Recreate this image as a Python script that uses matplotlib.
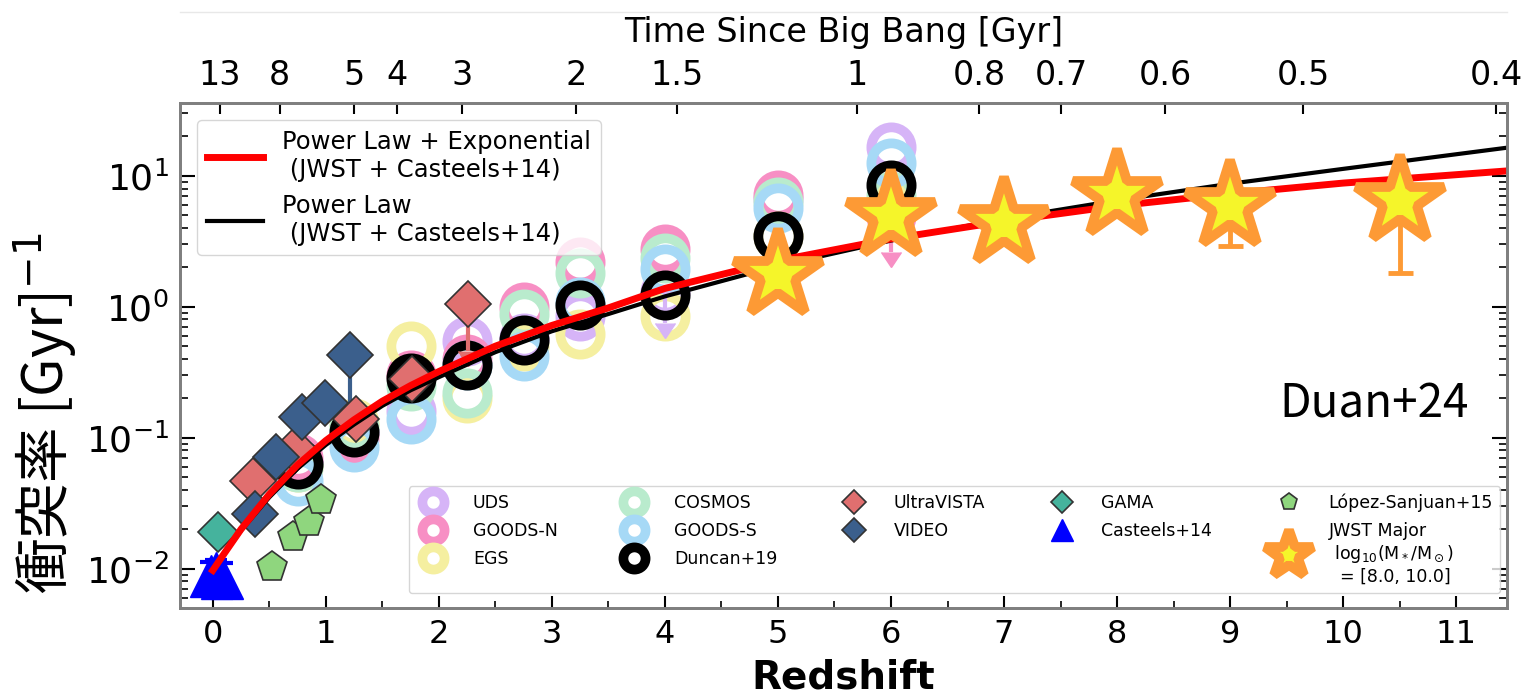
import numpy as np
import matplotlib
matplotlib.use('Agg')
import matplotlib.pyplot as plt
from matplotlib.lines import Line2D
from matplotlib.ticker import LogLocator, NullFormatter, MultipleLocator

plt.rcParams['font.family'] = ['DejaVu Sans', 'Noto Sans CJK JP']

# fitted curves
z_curve = [0, 0.1, 0.25, 0.5, 0.75, 1.0, 1.25, 1.5, 1.75, 2.0, 2.5, 3.0, 3.5, 4.0,
           5.0, 6.0, 7.0, 8.0, 9.0, 10.0, 11.45]
rate_pl_exp = [0.0097, 0.0130, 0.020, 0.037, 0.062, 0.095, 0.137, 0.19, 0.25, 0.32, 0.50,
               0.72, 0.98, 1.38, 2.25, 3.3, 4.5, 5.9, 7.3, 8.8, 10.9]
rate_pl = [0.0097, 0.0128, 0.0195, 0.035, 0.058, 0.088, 0.126, 0.175, 0.23, 0.29, 0.45,
           0.65, 0.88, 1.2, 2.05, 3.2, 4.7, 6.5, 8.7, 11.3, 16.4]

# Duncan+19 fields
z_fields = [0.75, 1.25, 1.75, 2.25, 2.75, 3.25, 4.0, 5.0, 6.0]
uds = [0.065, 0.11, 0.16, 0.55, 0.58, 0.85, 1.3, 6.6, 16.5]
goods_n = [0.07, 0.10, 0.30, 0.40, 1.0, 2.2, 2.75, 7.2, 4.9]
egs = [0.06, 0.13, 0.50, 0.20, 0.50, 0.62, 0.85, 3.5, 6.0]
cosmos = [0.06, 0.12, 0.25, 0.22, 0.88, 1.8, 2.35, 6.3, 7.0]
goods_s = [0.047, 0.085, 0.14, 0.36, 0.42, 1.08, 1.95, 5.7, 12.5]
duncan = [0.063, 0.111, 0.284, 0.36, 0.56, 1.04, 1.24, 3.5, 8.5]

z_uvista = [0.36, 0.73, 1.27, 1.76, 2.26]
uvista = [0.047, 0.08, 0.14, 0.28, 1.05]
z_video = [0.37, 0.56, 0.785, 0.99, 1.21]
video = [0.026, 0.071, 0.145, 0.183, 0.43]
z_gama = [0.05]
gama = [0.019]
z_casteels = [-0.02, 0.03, 0.08]
casteels = [0.0088, 0.0092, 0.0085]
z_lopez = [0.52, 0.71, 0.85, 0.96]
lopez = [0.0102, 0.0173, 0.0225, 0.0332]

z_jwst = [5, 6, 7, 8, 9, 10.5]
jwst = [1.75, 4.9, 4.4, 7.2, 5.9, 6.4]
jwst_lo = [1.4, 4.0, 3.6, 6.0, 2.9, 1.8]
jwst_hi = [2.2, 6.0, 5.4, 8.8, 7.0, 8.0]

ages = [13, 8, 5, 4, 3, 2, 1.5, 1, 0.8, 0.7, 0.6, 0.5, 0.4]


def z_at_age(t, H0=67.7, Om=0.307):
    # flat LCDM age -> redshift, for the top axis ticks
    OL = 1 - Om
    th = 977.8 / H0
    k = 1.5 * np.sqrt(OL) / th
    a32 = np.sinh(np.asarray(t) * k) / np.sqrt(OL / Om)
    return a32 ** (-2.0 / 3.0) - 1


fig = plt.figure(figsize=(15.23, 6.94), dpi=100)
ax = fig.add_axes([0.1182, 0.1239, 0.8713, 0.7277])

circ = dict(ls='none', marker='o', ms=29, mfc='none', mew=7, zorder=2)
field_cols = ['#d6b4f7', '#f78fc4', '#f5efa0', '#b9ebcd', '#a6d9f6']
h_uds, = ax.plot(z_fields, uds, mec=field_cols[0], label='UDS', **circ)
h_gn, = ax.plot(z_fields, goods_n, mec=field_cols[1], label='GOODS-N', **circ)
h_egs, = ax.plot(z_fields, egs, mec=field_cols[2], label='EGS', **circ)
h_cos, = ax.plot(z_fields, cosmos, mec=field_cols[3], label='COSMOS', **circ)
h_gs, = ax.plot(z_fields, goods_s, mec=field_cols[4], label='GOODS-S', **circ)
# limits with arrows
ax.errorbar([4.0], [1.3], yerr=[[1.3 - 0.75], [0]], uplims=True, fmt='none',
            ecolor=field_cols[0], color=field_cols[0], elinewidth=3, capsize=7, zorder=2)
ax.errorbar([6.0], [4.9], yerr=[[4.9 - 2.6], [0]], uplims=True, fmt='none',
            ecolor=field_cols[1], color=field_cols[1], elinewidth=3, capsize=7, zorder=2)
h_dun, = ax.plot(z_fields, duncan, ls='none', marker='o', ms=29, mfc='none',
                 mec='black', mew=7, zorder=2.5, label='Duncan+19')

ax.errorbar([2.26], [1.05], yerr=[[1.05 - 0.46], [0]], uplims=True, fmt='none',
            ecolor='#e06f6f', color='#e06f6f', elinewidth=3, capsize=7, zorder=2.6)
ax.errorbar([1.21], [0.43], yerr=[[0.43 - 0.17], [0]], uplims=True, fmt='none',
            ecolor='#3b5f8c', color='#3b5f8c', elinewidth=3, capsize=7, zorder=2.6)
dia = dict(ls='none', marker='D', ms=23, mec='#333333', mew=1.2, zorder=2.7)
h_uv, = ax.plot(z_uvista, uvista, mfc='#e06f6f', label='UltraVISTA', **dia)
h_vid, = ax.plot(z_video, video, mfc='#3b5f8c', label='VIDEO', **dia)
h_gama, = ax.plot(z_gama, gama, ls='none', marker='D', ms=20, mfc='#45b39d',
                  mec='#333333', mew=1.2, zorder=2.7, label='GAMA')
ax.errorbar(z_casteels, casteels, yerr=0.0025, fmt='none', ecolor='blue', color='blue',
            elinewidth=3, capsize=8, capthick=3, zorder=2.7)
h_cas, = ax.plot(z_casteels, casteels, ls='none', marker='^', ms=30, color='blue',
                 zorder=2.8, label='Casteels+14')
h_lop, = ax.plot(z_lopez, lopez, ls='none', marker='p', ms=23, mfc='#8fd67e',
                 mec='#333333', mew=1.2, zorder=2.7, label='López-Sanjuan+15')

l_red, = ax.plot(z_curve, rate_pl_exp, color='red', lw=5, zorder=4,
                 label='Power Law + Exponential\n (JWST + Casteels+14)')
l_blk, = ax.plot(z_curve, rate_pl, color='black', lw=3, zorder=3.9,
                 label='Power Law\n (JWST + Casteels+14)')

jwst_arr = np.array(jwst)
ax.errorbar(z_jwst, jwst, yerr=[jwst_arr - np.array(jwst_lo), np.array(jwst_hi) - jwst_arr],
            fmt='none', ecolor='#fd9a35', color='#fd9a35', elinewidth=3.5, capsize=9,
            capthick=3.5, zorder=4.5)
h_jw, = ax.plot(z_jwst, jwst, ls='none', marker='*', ms=66, mfc='#f5f52a', mec='#fd9a35',
                mew=7, zorder=5,
                label='JWST Major\n log$_{10}$(M$_*$/M$_\\odot$)\n  = [8.0, 10.0]')

ax.set_yscale('log')
ax.set_xlim(-0.29, 11.45)
ax.set_ylim(0.005, 36)
ax.xaxis.set_major_locator(MultipleLocator(1))
ax.xaxis.set_minor_locator(MultipleLocator(0.5))
ax.yaxis.set_major_locator(LogLocator(base=10, numticks=10))
ax.yaxis.set_minor_locator(LogLocator(base=10, subs=np.arange(2, 10), numticks=20))
ax.yaxis.set_minor_formatter(NullFormatter())
ax.tick_params(axis='x', which='major', direction='in', length=9, width=1.5, labelsize=23, pad=8)
ax.tick_params(axis='x', which='minor', direction='in', length=5, width=1.2)
ax.tick_params(axis='y', which='major', direction='in', length=11, width=1.5, labelsize=26,
               pad=8, right=True)
ax.tick_params(axis='y', which='minor', direction='in', length=6, width=1.2, right=True)
ax.tick_params(top=False, which='both')
for s in ax.spines.values():
    s.set_color('#7f7f7f')
    s.set_linewidth(2)

ax.set_xlabel('Redshift', fontsize=28, fontweight='bold', labelpad=6)
ax.set_ylabel('衝突率 [Gyr]$^{-1}$', fontsize=40, family=['Noto Sans CJK JP', 'DejaVu Sans'])
ax.yaxis.set_label_coords(-0.076, 0.385)

ax.text(0.971, 0.404, 'Duan+24', transform=ax.transAxes, ha='right', va='center',
        fontsize=33, family=['Noto Sans CJK JP', 'DejaVu Sans'])

# top axis: time since big bang
ax2 = ax.twiny()
ax2.set_xlim(ax.get_xlim())
ax2.set_xticks(z_at_age(ages))
ax2.set_xticklabels([f'{a:g}' for a in ages])
ax2.tick_params(axis='x', direction='in', length=8, width=1.5, labelsize=24, pad=8)
ax2.set_xlabel('Time Since Big Bang [Gyr]', fontsize=24, labelpad=12)
for s in ax2.spines.values():
    s.set_color('#7f7f7f')
    s.set_linewidth(2)

leg1 = ax.legend(handles=[l_red, l_blk], loc='upper left', bbox_to_anchor=(0.0128, 0.966),
                 borderaxespad=0, fontsize=17.5, handlelength=2.3)
ax.add_artist(leg1)
ax.legend(handles=[h_uds, h_gn, h_egs, h_cos, h_gs, h_dun, h_uv, h_vid, h_gama, h_cas,
                   h_lop, h_jw],
          loc='lower right', bbox_to_anchor=(0.9947, 0.0297), borderaxespad=0,
          ncol=5, fontsize=12.5, markerscale=0.55, columnspacing=3.4, handletextpad=1.3,
          labelspacing=0.6)

fig.add_artist(Line2D([180 / 1523, 1507 / 1523], [1 - 12 / 694] * 2, color='#e8e8e8', lw=1))

fig.savefig('out.png', dpi=100)
